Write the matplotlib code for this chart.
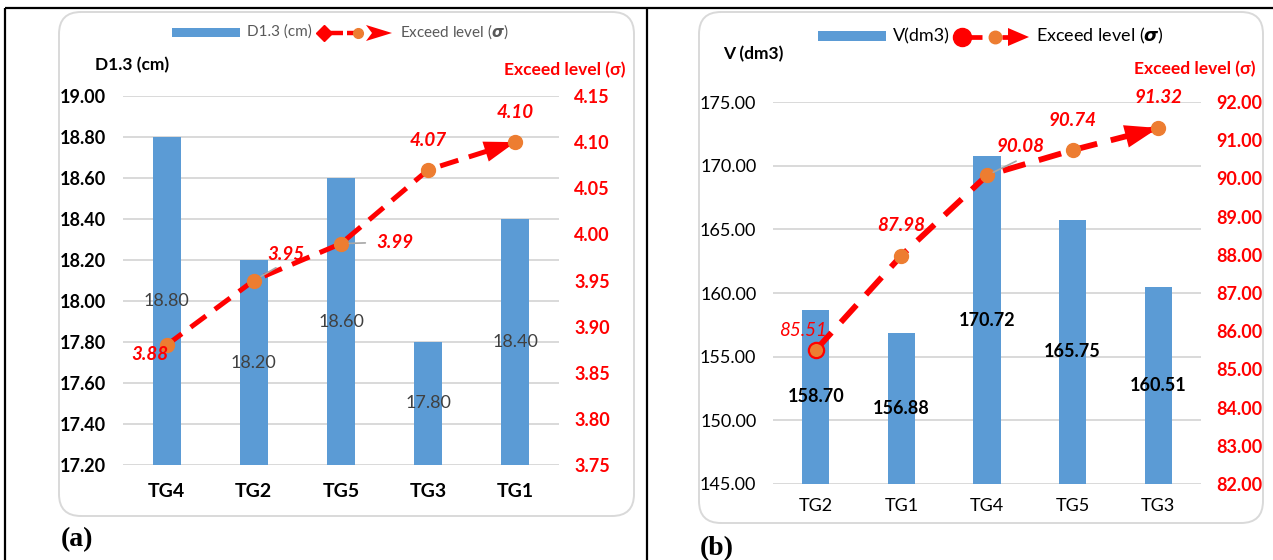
import matplotlib
matplotlib.use('Agg')
import matplotlib.pyplot as plt
from matplotlib.patches import FancyBboxPatch, Polygon, Rectangle
from matplotlib.lines import Line2D

W, H = 1273, 560
FONT = ['Lato', 'DejaVu Sans']
plt.rcParams['font.family'] = FONT

# ---------------- data ----------------
cats_a = ['TG4', 'TG2', 'TG5', 'TG3', 'TG1']
d13_a = [18.80, 18.20, 18.60, 17.80, 18.40]
exceed_a = [3.88, 3.95, 3.99, 4.07, 4.10]
ticks_a_left = [17.20, 17.40, 17.60, 17.80, 18.00, 18.20, 18.40, 18.60, 18.80, 19.00]
ticks_a_right = [3.75, 3.80, 3.85, 3.90, 3.95, 4.00, 4.05, 4.10, 4.15]

cats_b = ['TG2', 'TG1', 'TG4', 'TG5', 'TG3']
vol_b = [158.70, 156.88, 170.72, 165.75, 160.51]
exceed_b = [85.51, 87.98, 90.08, 90.74, 91.32]
ticks_b_left = [145.00, 150.00, 155.00, 160.00, 165.00, 170.00, 175.00]
ticks_b_right = [82.00, 83.00, 84.00, 85.00, 86.00, 87.00, 88.00, 89.00, 90.00, 91.00, 92.00]

# label offsets (pixels) for line labels
off_a = [(-17, -9), (32, 26), (54, 1), (0, 29), (0, 30)]
off_b = [(-13, 19), (0, 30), (34, 29), (0, 30), (0, 30)]

BLUE = '#5B9BD5'
ORANGE = '#ED7D31'
RED = '#FF0000'
GRID = '#D9D9D9'

fig = plt.figure(figsize=(W / 100, H / 100), dpi=100)
fig.patch.set_facecolor('white')
T = fig.dpi_scale_trans


def P(x, y):
    return (x / 100, (H - y) / 100)


def fline(xs, ys, **kw):
    pts = [P(x, y) for x, y in zip(xs, ys)]
    fig.add_artist(Line2D([p[0] for p in pts], [p[1] for p in pts], transform=T, **kw))


def ftext(x, y, s, **kw):
    fig.text(x / W, 1 - y / H, s, **kw)


# outer frame
for xs, ys in [([5, 1273], [8, 8]), ([5, 5], [8, 560]), ([647, 647], [8, 560])]:
    fline(xs, ys, color='black', lw=1.6, solid_capstyle='butt')

# rounded boxes
for (x0, y0, x1, y1) in [(59, 12, 634, 516), (699, 12, 1263, 523)]:
    b = FancyBboxPatch(P(x0, y1), (x1 - x0) / 100, (y1 - y0) / 100,
                       boxstyle='round,pad=0,rounding_size=0.22', transform=T,
                       fc='white', ec=GRID, lw=1.4, zorder=-5)
    fig.add_artist(b)


def px_axes(x0, y0, x1, y1):
    return fig.add_axes([x0 / W, 1 - y1 / H, (x1 - x0) / W, (y1 - y0) / H])


def setup(ax, ticks, ylim, bold, pad_l, pad_x, cats, catsize):
    ax.set_facecolor('none')
    for s in ax.spines.values():
        s.set_visible(False)
    ax.set_xlim(-0.5, 4.5)
    ax.set_ylim(*ylim)
    ax.set_yticks(ticks)
    ax.set_yticklabels([f'{t:.2f}' for t in ticks], fontsize=13,
                       fontweight='bold' if bold else 'normal', color='black')
    ax.set_xticks(range(len(cats)))
    ax.set_xticklabels(cats, fontsize=catsize, fontweight='bold' if bold else 'normal')
    ax.tick_params(axis='y', length=0, pad=pad_l)
    ax.tick_params(axis='x', length=0, pad=pad_x)
    ax.yaxis.grid(True, color=GRID, lw=1.4)
    ax.set_axisbelow(True)


def twin(ax, ticks, ylim, pad):
    a2 = ax.twinx()
    a2.set_facecolor('none')
    for s in a2.spines.values():
        s.set_visible(False)
    a2.set_ylim(*ylim)
    a2.set_yticks(ticks)
    a2.set_yticklabels([f'{t:.2f}' for t in ticks], fontsize=13, fontweight='bold', color=RED)
    a2.tick_params(axis='y', length=0, pad=pad)
    return a2


# ---------------- panel (a) ----------------
ax = px_axes(123, 96, 559, 465)
setup(ax, ticks_a_left, (ticks_a_left[0], ticks_a_left[-1]), True, 12, 13, cats_a, 14)
xa = list(range(len(cats_a)))
ax.bar(xa, d13_a, width=0.32, color=BLUE, zorder=2)
for i, v in enumerate(d13_a):
    ax.text(i, (v + ticks_a_left[0]) / 2, f'{v:.2f}', ha='center', va='center',
            fontsize=13, color='#404040', zorder=3)
a2 = twin(ax, ticks_a_right, (ticks_a_right[0], ticks_a_right[-1]), 11)
a2.plot(xa, exceed_a, color=RED, lw=3.6, ls=(0, (3.8, 2.2)), dash_capstyle='butt', zorder=3)
a2.annotate('', xy=(xa[-1], exceed_a[-1]), xytext=(xa[-2], exceed_a[-2]),
            arrowprops=dict(arrowstyle='-|>,head_length=1.5,head_width=0.5', mutation_scale=15,
                            color=RED, lw=0, shrinkA=0, shrinkB=0), zorder=4)
a2.plot(xa, exceed_a, 'o', ms=10, color=ORANGE, zorder=5)
for i, v in enumerate(exceed_a):
    dx, dy = off_a[i]
    kw = {}
    if i == 1:
        kw = dict(arrowprops=dict(arrowstyle='-', color='#A6A6A6', lw=1.2, shrinkA=2, shrinkB=6,
                                  relpos=(0.3, -0.2)))
    if i == 2:
        kw = dict(arrowprops=dict(arrowstyle='-', color='#A6A6A6', lw=1.2, shrinkA=6, shrinkB=6,
                                  relpos=(0, 0.5)))
    a2.annotate(f'{v:.2f}', xy=(i, v), xytext=(dx, dy), textcoords='offset pixels',
                ha='center', va='center', fontsize=13.5, fontweight='bold', fontstyle='italic',
                color=RED, zorder=6, **kw)

ftext(132, 65, 'D1.3 (cm)', ha='center', va='center', fontsize=12.5, fontweight='bold')
ftext(565, 70, 'Exceed level (σ)', ha='center', va='center', fontsize=12.5,
      fontweight='bold', color=RED)

SIG = r'Exceed level ($\boldsymbol{\sigma}$)'

# legend (a)
fig.add_artist(Rectangle(P(172, 37), 68 / 100, 9 / 100, transform=T, fc=BLUE, ec='none'))
ftext(247, 32, 'D1.3 (cm)', ha='left', va='center', fontsize=11, color='#595959')
fline([324, 343], [33, 33], color=RED, lw=3.2, solid_capstyle='butt')
fline([347, 356], [33, 33], color=RED, lw=3.2, solid_capstyle='butt')
fline([324], [33], marker='D', ms=8.5, color=RED, lw=0)
fline([358], [33], marker='o', ms=7, color=ORANGE, lw=0)
fig.add_artist(Polygon([P(366, 25), P(392, 33), P(366, 41), P(372, 33)], closed=True,
                       transform=T, fc=RED, ec='none'))
ftext(400, 32, SIG, ha='left', va='center', fontsize=11, color='#595959')

# ---------------- panel (b) ----------------
bx = px_axes(773, 102, 1201, 484)
setup(bx, ticks_b_left, (ticks_b_left[0], ticks_b_left[-1]), False, 12, 10, cats_b, 13)
xb = list(range(len(cats_b)))
bx.bar(xb, vol_b, width=0.32, color=BLUE, zorder=2)
for i, v in enumerate(vol_b):
    bx.text(i, (v + ticks_b_left[0]) / 2, f'{v:.2f}', ha='center', va='center',
            fontsize=13, fontweight='bold', color='black', zorder=3)
b2 = twin(bx, ticks_b_right, (ticks_b_right[0], ticks_b_right[-1]), 11)
b2.plot(xb, exceed_b, color=RED, lw=4.2, ls=(0, (4.0, 2.4)), dash_capstyle='butt', zorder=3)
b2.annotate('', xy=(xb[-1], exceed_b[-1]), xytext=(xb[-2], exceed_b[-2]),
            arrowprops=dict(arrowstyle='-|>,head_length=1.6,head_width=0.55', mutation_scale=15,
                            color=RED, lw=0, shrinkA=0, shrinkB=0), zorder=4)
b2.plot(xb, exceed_b, 'o', ms=10, color=ORANGE, zorder=5)
b2.plot(xb[:1], exceed_b[:1], 'o', ms=11, mfc=ORANGE, mec=RED, mew=1.6, zorder=5)
for i, v in enumerate(exceed_b):
    dx, dy = off_b[i]
    kw = {}
    if i == 2:
        kw = dict(arrowprops=dict(arrowstyle='-', color='#A6A6A6', lw=1.2, shrinkA=2, shrinkB=5,
                                  relpos=(0.45, -0.3)))
    b2.annotate(f'{v:.2f}', xy=(i, v), xytext=(dx, dy), textcoords='offset pixels',
                ha='center', va='center', fontsize=13.5,
                fontweight='normal' if i == 0 else 'bold', fontstyle='italic',
                color=RED, zorder=6, **kw)

ftext(753, 54, 'V (dm3)', ha='center', va='center', fontsize=12.5, fontweight='bold')
ftext(1195, 69, 'Exceed level (σ)', ha='center', va='center', fontsize=12.5,
      fontweight='bold', color=RED)

# legend (b)
fig.add_artist(Rectangle(P(818, 41), 68 / 100, 10 / 100, transform=T, fc=BLUE, ec='none'))
ftext(893, 36, 'V(dm3)', ha='left', va='center', fontsize=13, color='black')
fline([962, 982], [37, 37], color=RED, lw=3.4, solid_capstyle='butt')
fline([962], [37], marker='o', ms=13, color=RED, lw=0)
fline([995], [37], marker='o', ms=9, color=ORANGE, lw=0)
fline([1002, 1012], [37, 37], color=RED, lw=3.4, solid_capstyle='butt')
fig.add_artist(Polygon([P(1008, 28), P(1029, 37), P(1008, 46)], closed=True,
                       transform=T, fc=RED, ec='none'))
ftext(1036, 36, SIG, ha='left', va='center', fontsize=13, color='black')

# panel letters
ftext(77, 540, '(a)', ha='center', va='center', fontsize=20, fontweight='bold',
      family='Liberation Serif')
ftext(717, 549, '(b)', ha='center', va='center', fontsize=20, fontweight='bold',
      family='Liberation Serif')

fig.savefig('out.png', dpi=100)
